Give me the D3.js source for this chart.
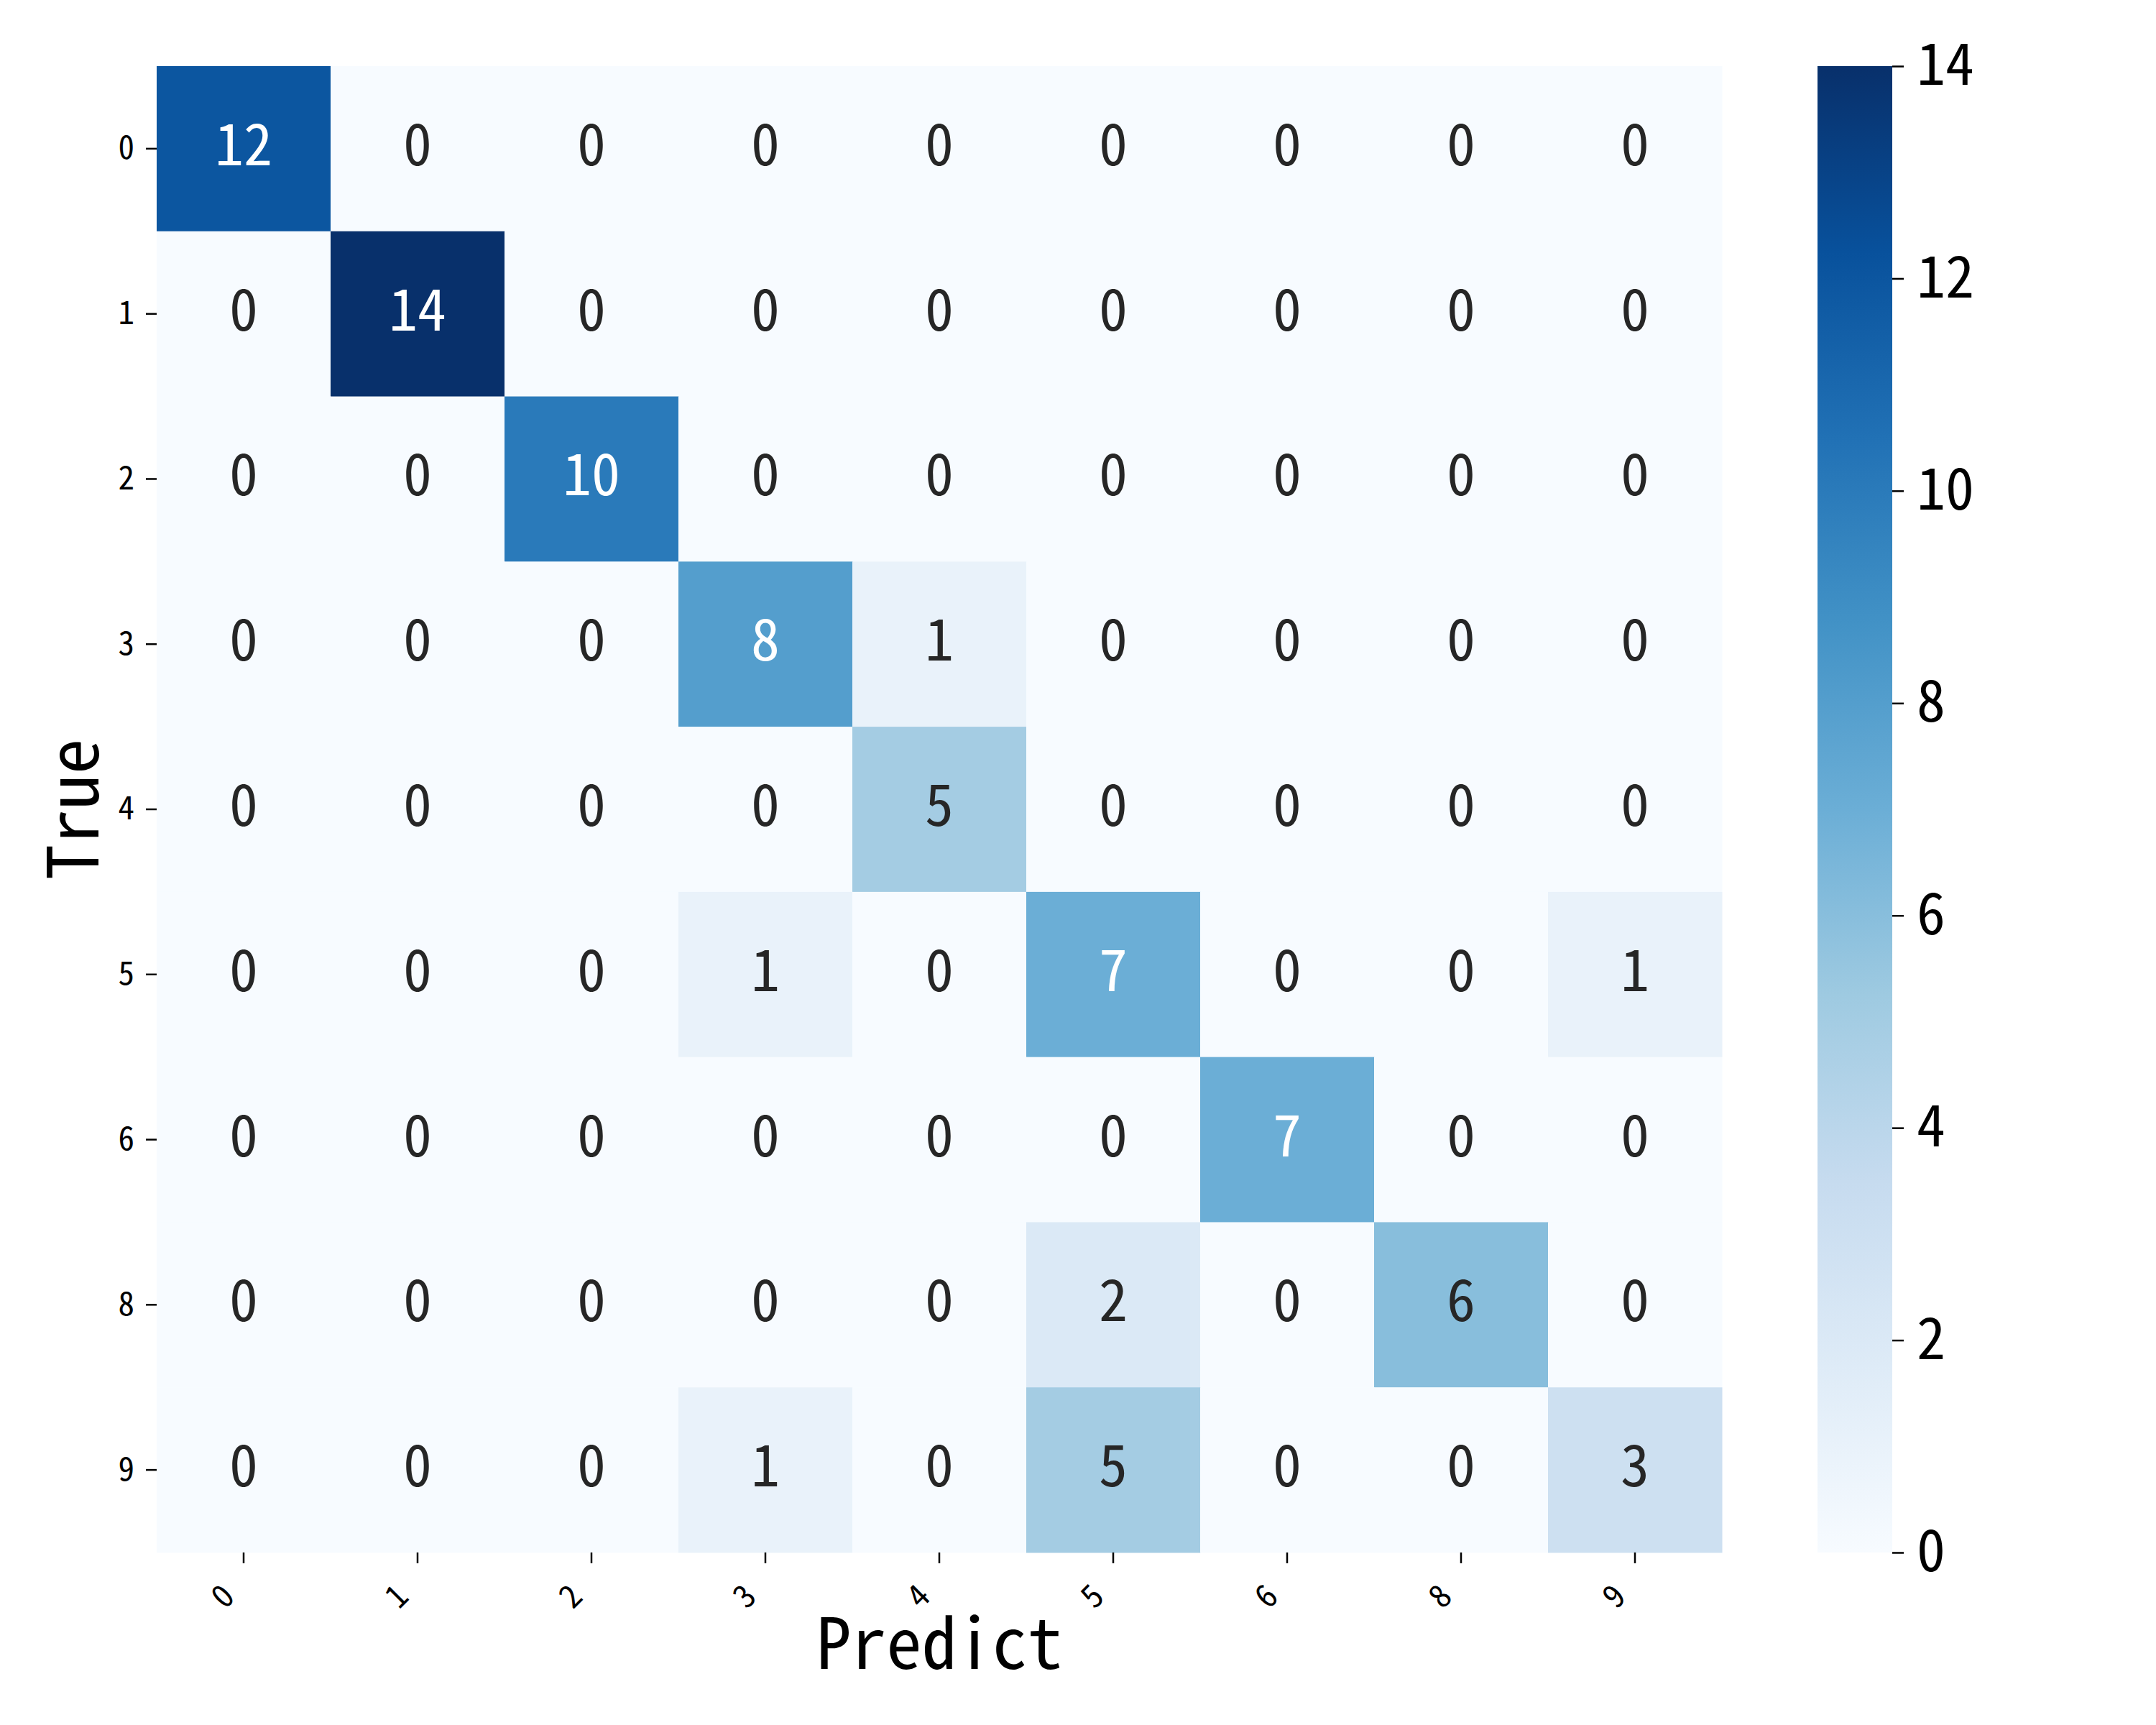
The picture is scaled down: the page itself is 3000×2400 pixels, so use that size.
<!DOCTYPE html>
<html>
<head>
<meta charset="utf-8">
<script src="https://cdn.jsdelivr.net/npm/d3@7"></script>
<style>
  html, body { margin: 0; padding: 0; background: #fff; }
  svg text { font-family: "Noto Sans Mono CJK SC", "DejaVu Sans Mono", monospace; }
</style>
</head>
<body>
<svg id="chart" width="3000" height="2400"></svg>
<script>
// ============================================================
// DATI - matrice di confusione (righe = True, colonne = Predict)
// ============================================================
const trueLabels = ["0", "1", "2", "3", "4", "5", "6", "8", "9"];
const predLabels = ["0", "1", "2", "3", "4", "5", "6", "8", "9"];

const row0 = [12, 0, 0, 0, 0, 0, 0, 0, 0];
const row1 = [0, 14, 0, 0, 0, 0, 0, 0, 0];
const row2 = [0, 0, 10, 0, 0, 0, 0, 0, 0];
const row3 = [0, 0, 0, 8, 1, 0, 0, 0, 0];
const row4 = [0, 0, 0, 0, 5, 0, 0, 0, 0];
const row5 = [0, 0, 0, 1, 0, 7, 0, 0, 1];
const row6 = [0, 0, 0, 0, 0, 0, 7, 0, 0];
const row8 = [0, 0, 0, 0, 0, 2, 0, 6, 0];
const row9 = [0, 0, 0, 1, 0, 5, 0, 0, 3];
const matrix = [row0, row1, row2, row3, row4, row5, row6, row8, row9];

const colorbarTicks = [0, 2, 4, 6, 8, 10, 12, 14];

// palette "Blues" (ColorBrewer, 9 classi) come in matplotlib
const bluesStops = ["#f7fbff", "#deebf7", "#c6dbef", "#9ecae1", "#6baed6",
                    "#4292c6", "#2171b5", "#08519c", "#08306b"];

// ============================================================
// LAYOUT
// ============================================================
const svg = d3.select("#chart");
const plot = { left: 218, top: 92, right: 2396, bottom: 2160 };
const cbar = { left: 2529, right: 2633 };
const vmin = 0, vmax = 14;

const x = d3.scaleBand().domain(predLabels).range([plot.left, plot.right]);
const y = d3.scaleBand().domain(trueLabels).range([plot.top, plot.bottom]);

const color = d3.scaleLinear()
  .domain(d3.range(bluesStops.length).map(i => vmin + (vmax - vmin) * i / (bluesStops.length - 1)))
  .range(bluesStops)
  .interpolate(d3.interpolateRgb)
  .clamp(true);

// luminanza relativa per scegliere il colore del testo (come seaborn)
function luminance(c) {
  const rgb = d3.rgb(c);
  const f = v => { v /= 255; return v <= 0.03928 ? v / 12.92 : Math.pow((v + 0.055) / 1.055, 2.4); };
  return 0.2126 * f(rgb.r) + 0.7152 * f(rgb.g) + 0.0722 * f(rgb.b);
}

// celle
const cells = [];
matrix.forEach((row, i) => row.forEach((v, j) => cells.push({ t: trueLabels[i], p: predLabels[j], v })));

svg.append("g").selectAll("rect")
  .data(cells)
  .enter()
  .append("rect")
  .attr("x", d => x(d.p))
  .attr("y", d => y(d.t))
  .attr("width", x.bandwidth() + 0.5)
  .attr("height", y.bandwidth() + 0.5)
  .attr("fill", d => color(d.v));

// annotazioni (baseline un po' sotto il centro della cella)
svg.append("g").selectAll("text")
  .data(cells)
  .enter()
  .append("text")
  .attr("x", d => x(d.p) + x.bandwidth() / 2)
  .attr("y", d => y(d.t) + y.bandwidth() / 2)
  .attr("dy", 23)
  .attr("text-anchor", "middle")
  .attr("font-size", 80)
  .attr("fill", d => luminance(color(d.v)) < 0.408 ? "#ffffff" : "#262626")
  .text(d => d.v);

// ============================================================
// ASSI
// ============================================================
const yAxis = svg.append("g")
  .attr("transform", `translate(${plot.left},0)`)
  .call(d3.axisLeft(y).tickSize(15).tickPadding(16));
yAxis.select(".domain").remove();
yAxis.selectAll("line").attr("stroke", "#000").attr("stroke-width", 2.5);
yAxis.selectAll("text").attr("font-size", 45).attr("fill", "#000");

const xAxis = svg.append("g")
  .attr("transform", `translate(0,${plot.bottom})`)
  .call(d3.axisBottom(x).tickSize(15));
xAxis.select(".domain").remove();
xAxis.selectAll("line").attr("stroke", "#000").attr("stroke-width", 2.5);
xAxis.selectAll("text")
  .attr("font-size", 45)
  .attr("fill", "#000")
  .attr("y", null).attr("dy", null)
  .attr("text-anchor", "end")
  .attr("transform", "translate(-10,64) rotate(-45)");

// titoli assi
svg.append("text")
  .attr("x", (plot.left + plot.right) / 2)
  .attr("y", 2322)
  .attr("text-anchor", "middle")
  .attr("font-size", 98)
  .text("Predict");

svg.append("text")
  .attr("transform", `translate(137,${(plot.top + plot.bottom) / 2}) rotate(-90)`)
  .attr("text-anchor", "middle")
  .attr("font-size", 98)
  .text("True");

// ============================================================
// COLORBAR
// ============================================================
const defs = svg.append("defs");
const grad = defs.append("linearGradient")
  .attr("id", "cbar-grad")
  .attr("x1", 0).attr("y1", 1).attr("x2", 0).attr("y2", 0);
bluesStops.forEach((c, i) => {
  grad.append("stop").attr("offset", i / (bluesStops.length - 1)).attr("stop-color", c);
});

svg.append("rect")
  .attr("x", cbar.left)
  .attr("y", plot.top)
  .attr("width", cbar.right - cbar.left)
  .attr("height", plot.bottom - plot.top)
  .attr("fill", "url(#cbar-grad)");

const cScale = d3.scaleLinear().domain([vmin, vmax]).range([plot.bottom, plot.top]);
const cAxis = svg.append("g")
  .attr("transform", `translate(${cbar.right},0)`)
  .call(d3.axisRight(cScale).tickValues(colorbarTicks).tickSize(16).tickPadding(18));
cAxis.select(".domain").remove();
cAxis.selectAll("line").attr("stroke", "#000").attr("stroke-width", 2.5);
cAxis.selectAll("text").attr("font-size", 80).attr("fill", "#000");
</script>
</body>
</html>
